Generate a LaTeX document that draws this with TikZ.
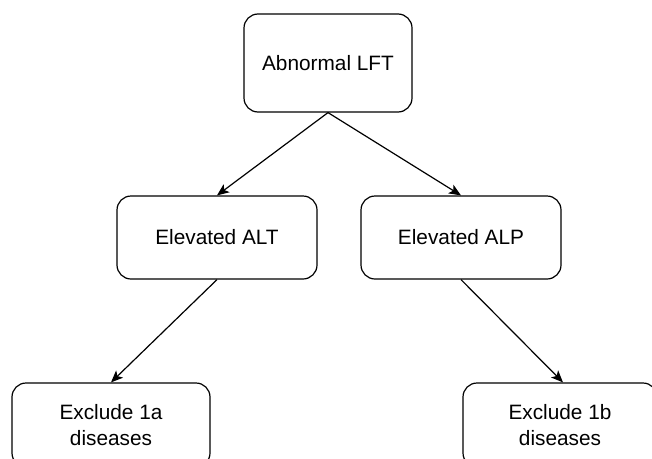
\documentclass[tikz,border=0pt]{standalone}
\usepackage{fontspec}
\setmainfont{Liberation Sans}
\usetikzlibrary{arrows.meta}
\begin{document}
\begin{tikzpicture}[x=1pt,y=-1pt,
  box/.style={draw, line width=1.2pt, rounded corners=14pt, align=center,
    inner sep=0pt, font=\fontsize{20.8}{26}\selectfont},
  arr/.style={draw, line width=1.2pt,
    -{Stealth[length=12pt,width=10pt,inset=3pt]}}]
  % page frame
  \useasboundingbox (0,0) rectangle (652,458);
  \clip (0,0) rectangle (652,458);
  \fill[white] (0,0) rectangle (652,458);

  % boxes
  \node[box, minimum width=168pt, minimum height=98pt] (lft) at (328,63) {Abnormal LFT};
  \node[box, minimum width=200pt, minimum height=83pt] (alt) at (217,237.5) {Elevated ALT};
  \node[box, minimum width=200pt, minimum height=83pt] (alp) at (461,237.5) {Elevated ALP};
  \node[box, minimum width=198pt, minimum height=84pt] (exa) at (111,425) {Exclude 1a\\diseases};
  \node[box, minimum width=194pt, minimum height=84pt] (exb) at (560,425) {Exclude 1b\\diseases};

  % connectors
  \draw[arr] (lft.south) -- (alt.north);
  \draw[arr] (lft.south) -- (alp.north);
  \draw[arr] (alt.south) -- (exa.north);
  \draw[arr] (alp.south) -- ([xshift=3pt]exb.north);
\end{tikzpicture}
\end{document}
